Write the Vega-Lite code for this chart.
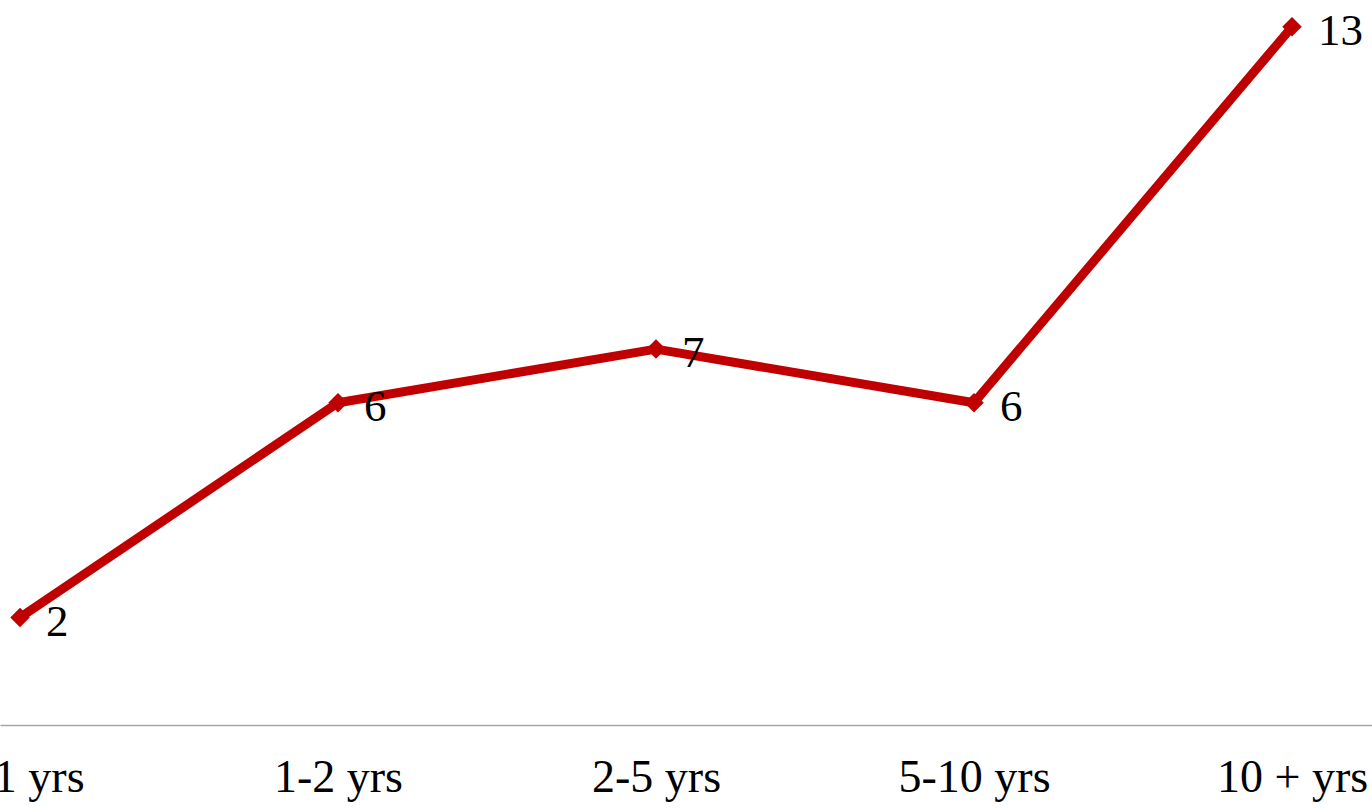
{
  "$schema": "https://vega.github.io/schema/vega-lite/v6.json",
  "width": 1372,
  "height": 725,
  "autosize": {"type": "none"},
  "padding": {"left": 0, "top": 0, "right": 0, "bottom": 84},
  "background": "white",
  "config": {"view": {"stroke": null}, "font": "Liberation Serif"},
  "data": {"values": [
    {"tenure": "< 1 yrs", "count": 2},
    {"tenure": "1-2 yrs", "count": 6},
    {"tenure": "2-5 yrs", "count": 7},
    {"tenure": "5-10 yrs", "count": 6},
    {"tenure": "10 + yrs", "count": 13}
  ]},
  "encoding": {
    "x": {
      "field": "tenure", "type": "ordinal", "sort": null,
      "scale": {"type": "point", "padding": 0.1572, "align": 0.2},
      "axis": {
        "title": null, "labelAngle": 0, "ticks": false, "grid": false,
        "domainColor": "#A6A6A6", "domainWidth": 1.5,
        "labelFont": "Liberation Serif", "labelFontSize": 46, "labelColor": "#000000",
        "labelPadding": 30, "labelOverlap": false, "labelBound": false
      }
    },
    "y": {
      "field": "count", "type": "quantitative",
      "scale": {"domain": [0, 13.5], "nice": false, "zero": true},
      "axis": null
    }
  },
  "layer": [
    {"mark": {"type": "line", "color": "#C00000", "strokeWidth": 9, "strokeJoin": "round"}},
    {"mark": {"type": "point", "shape": "diamond", "filled": true, "color": "#C00000", "size": 380, "opacity": 1}},
    {
      "mark": {"type": "text", "align": "left", "baseline": "middle", "dx": 26, "dy": 4, "font": "Liberation Serif", "fontSize": 45, "color": "#000000"},
      "encoding": {"text": {"field": "count", "type": "quantitative"}}
    }
  ]
}
